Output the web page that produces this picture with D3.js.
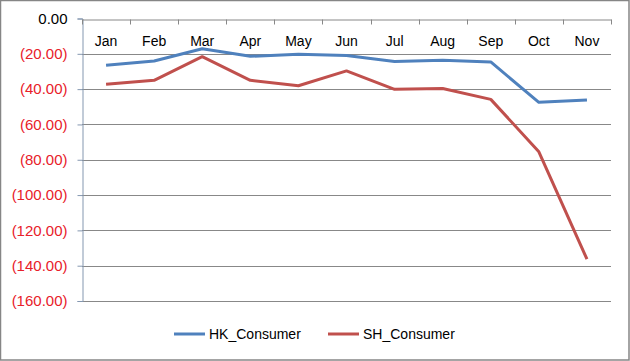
<!DOCTYPE html>
<html><head><meta charset="utf-8">
<script src="https://cdn.jsdelivr.net/npm/d3@7/dist/d3.min.js"></script>
<style>body{margin:0;background:#fff}svg{display:block}</style>
</head><body>
<script>
const months = ["Jan","Feb","Mar","Apr","May","Jun","Jul","Aug","Sep","Oct","Nov"];
const hkConsumer = [-26.5,-24.1,-17.1,-21.4,-20.3,-20.9,-24.3,-23.7,-24.6,-47.5,-46.2];
const shConsumer = [-37.3,-35.0,-21.6,-35.0,-38.1,-29.7,-40.1,-39.6,-45.8,-75.5,-136.3];
const yTicks = [0,-20,-40,-60,-80,-100,-120,-140,-160];
const seriesNames = ["HK_Consumer","SH_Consumer"];
const colors = ["#4F81BD","#C0504D"];

(function(){
const W=630,H=361;
const svg=d3.select("body").append("svg").attr("width",W).attr("height",H);
svg.append("rect").attr("x",0.5).attr("y",0.5).attr("width",W-1.5).attr("height",H-1.5)
  .attr("fill","#fff").attr("stroke","#868686").attr("stroke-width",1.5);

const pl=82,pr=611,pt=18.5,pb=301;
const x=d3.scaleBand().domain(months).range([pl,pr]);
const y=d3.scaleLinear().domain([0,-160]).range([pt,pb]);
const font="'Liberation Sans', Arial, sans-serif";

// gridlines
svg.append("g").selectAll("line").data(yTicks.filter(d=>d!==0)).join("line")
  .attr("x1",pl).attr("x2",pr).attr("y1",d=>Math.round(y(d))+0.5).attr("y2",d=>Math.round(y(d))+0.5)
  .attr("stroke","#888").attr("stroke-width",1);

// y axis
const yAxis=d3.axisLeft(y).tickValues(yTicks).tickSize(5).tickPadding(10)
  .tickFormat(d=>d===0?"0.00":"("+d3.format(".2f")(-d)+")");
const gy=svg.append("g").attr("transform",`translate(${pl+0.5},0)`).call(yAxis);
gy.select(".domain").attr("stroke","#8497B0");
gy.selectAll(".tick line").attr("stroke","#8497B0");
gy.selectAll(".tick text").attr("font-family",font).attr("font-size",15)
  .attr("fill",d=>d===0?"#000":"#E8202A");

// x axis at top (value 0)
const xAxis=d3.axisBottom(x).tickSize(0).tickPadding(0);
const gx=svg.append("g").attr("transform",`translate(0,${Math.round(y(0))+0.5})`).call(xAxis);
gx.select(".domain").attr("stroke","#888");
gx.selectAll(".tick text").attr("font-family",font).attr("font-size",14).attr("fill","#000").attr("dy","1.9em");
const bounds=months.map(m=>x(m)).concat([pr]);
gx.append("g").selectAll("line").data(bounds).join("line")
  .attr("x1",d=>Math.round(d)+0.5).attr("x2",d=>Math.round(d)+0.5).attr("y1",0).attr("y2",5)
  .attr("stroke","#888");

// lines
const series=[hkConsumer,shConsumer];
const line=d3.line().x((d,i)=>x(months[i])+x.bandwidth()/2).y(d=>y(d));
series.forEach((s,k)=>{
  svg.append("path").datum(s).attr("d",line).attr("fill","none")
    .attr("stroke",colors[k]).attr("stroke-width",3).attr("stroke-linejoin","round");
});

// legend
const lg=svg.append("g");
const legX=[174,328];
seriesNames.forEach((n,k)=>{
  lg.append("line").attr("x1",legX[k]).attr("x2",legX[k]+31).attr("y1",334).attr("y2",334)
    .attr("stroke",colors[k]).attr("stroke-width",3);
  lg.append("text").attr("x",legX[k]+35).attr("y",339).text(n)
    .attr("font-family",font).attr("font-size",14).attr("fill","#000");
});
})();
</script>
</body></html>
